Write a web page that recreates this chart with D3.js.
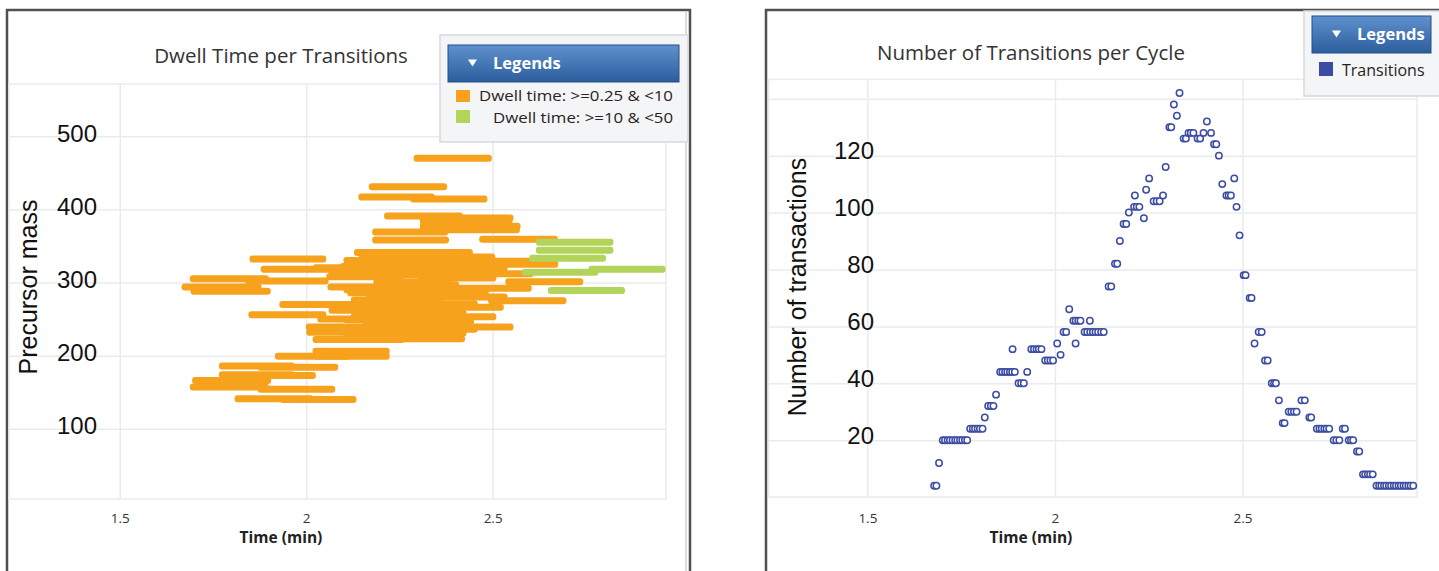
<!DOCTYPE html>
<html>
<head>
<meta charset="utf-8">
<script src="https://cdn.jsdelivr.net/npm/d3@7"></script>
<style>
  body { margin: 0; background: #fff; }
  svg { display: block; }
  .ui { font-family: "Open Sans", "Noto Sans", sans-serif; }
  .big { font-family: "Liberation Sans", Arial, sans-serif; }
</style>
</head>
<body>
<svg id="chart" width="1439" height="571"></svg>
<script>
// ---- data ----
const timeTicks = [1.5, 2, 2.5];
const massTicks = [100, 200, 300, 400, 500];
const countGrid = [20, 40, 60, 80, 100, 120, 140];
const countLabels = [20, 40, 60, 80, 100, 120];

// transition windows: [start (min), end (min), precursor mass]
const shortDwell = [
  [2.288, 2.498, 470], [2.168, 2.378, 431], [2.140, 2.345, 417], [2.279, 2.486, 414],
  [2.209, 2.420, 391], [2.350, 2.556, 388], [2.305, 2.515, 384], [2.345, 2.553, 382],
  [2.305, 2.515, 378], [2.370, 2.575, 377], [2.305, 2.510, 373], [2.365, 2.573, 372],
  [2.177, 2.381, 369], [2.177, 2.383, 358], [2.464, 2.675, 359],
  [2.128, 2.340, 341], [2.240, 2.447, 341], [2.186, 2.400, 335], [2.300, 2.507, 335],
  [2.140, 2.350, 338], [2.280, 2.490, 327], [2.090, 2.300, 322], [2.240, 2.450, 316],
  [1.848, 2.054, 332], [2.100, 2.310, 330], [2.250, 2.460, 330], [2.420, 2.630, 329],
  [2.200, 2.410, 325], [2.466, 2.676, 325],
  [1.878, 2.088, 318], [2.018, 2.228, 320], [2.190, 2.400, 320], [2.330, 2.540, 319],
  [2.060, 2.270, 313], [2.280, 2.490, 314], [2.400, 2.610, 312], [2.120, 2.330, 310],
  [1.688, 1.900, 305], [1.836, 2.060, 302], [2.054, 2.264, 308], [2.300, 2.510, 306],
  [2.534, 2.743, 301], [2.180, 2.390, 300],
  [1.666, 1.880, 294], [1.690, 1.905, 288], [2.057, 2.270, 294], [2.200, 2.410, 297],
  [2.395, 2.605, 292], [2.110, 2.320, 286], [2.200, 2.410, 283], [2.330, 2.540, 280],
  [2.100, 2.310, 290], [2.280, 2.490, 288], [2.160, 2.370, 279],
  [2.120, 2.330, 276], [2.488, 2.698, 275], [1.928, 2.138, 270], [2.250, 2.460, 271],
  [2.320, 2.530, 266], [2.060, 2.270, 262], [2.220, 2.430, 258], [1.845, 2.054, 256],
  [2.060, 2.270, 268], [2.180, 2.390, 264], [2.120, 2.330, 254],
  [2.300, 2.510, 253], [2.100, 2.310, 249], [2.240, 2.450, 246], [1.999, 2.210, 239],
  [2.030, 2.240, 250], [2.150, 2.360, 243], [2.080, 2.290, 236], [2.250, 2.460, 236],
  [2.346, 2.556, 239], [2.000, 2.210, 232], [2.220, 2.430, 231], [2.100, 2.300, 227],
  [2.150, 2.350, 228], [2.017, 2.264, 222], [2.220, 2.426, 223],
  [2.017, 2.224, 206], [1.916, 2.120, 199], [2.020, 2.224, 199],
  [1.766, 1.970, 186], [1.870, 2.086, 184], [1.766, 1.970, 174], [1.820, 2.026, 173],
  [1.694, 1.906, 166], [1.688, 1.900, 157], [1.870, 2.078, 154],
  [1.808, 2.020, 141], [1.930, 2.135, 140]
];
const longDwell = [
  [2.616, 2.824, 355], [2.616, 2.824, 344], [2.598, 2.804, 333],
  [2.757, 2.964, 318], [2.578, 2.784, 314], [2.648, 2.855, 289]
];

// cycles: [time (min), number of transitions]
const transitions = [
  [1.678, 4], [1.684, 4], [1.691, 12],
  [1.701, 20], [1.707, 20], [1.714, 20], [1.720, 20], [1.727, 20], [1.734, 20],
  [1.740, 20], [1.747, 20], [1.753, 20], [1.760, 20], [1.766, 20],
  [1.774, 24], [1.781, 24], [1.787, 24], [1.794, 24], [1.800, 24], [1.807, 24],
  [1.813, 28], [1.822, 32], [1.829, 32], [1.836, 32], [1.843, 36],
  [1.854, 44], [1.860, 44], [1.867, 44], [1.873, 44], [1.880, 44], [1.886, 44], [1.893, 44],
  [1.887, 52],
  [1.903, 40], [1.910, 40], [1.917, 40], [1.926, 44],
  [1.937, 52], [1.944, 52], [1.951, 52], [1.957, 52], [1.964, 52],
  [1.974, 48], [1.981, 48], [1.988, 48], [1.995, 48],
  [2.006, 54], [2.015, 50], [2.023, 58], [2.030, 58], [2.038, 66],
  [2.049, 62], [2.055, 62], [2.062, 62], [2.068, 62], [2.055, 54],
  [2.079, 58], [2.086, 58], [2.094, 58], [2.101, 58], [2.108, 58], [2.115, 58],
  [2.123, 58], [2.130, 58], [2.093, 62],
  [2.143, 74], [2.150, 74], [2.160, 82], [2.166, 82], [2.173, 90],
  [2.183, 96], [2.190, 96], [2.197, 100],
  [2.211, 102], [2.218, 102], [2.225, 102], [2.213, 106], [2.237, 98],
  [2.243, 108], [2.251, 112],
  [2.263, 104], [2.271, 104], [2.279, 104], [2.288, 106], [2.295, 116],
  [2.305, 130], [2.310, 130], [2.317, 138], [2.325, 134], [2.332, 142],
  [2.343, 126], [2.349, 126], [2.356, 128], [2.362, 128], [2.369, 128],
  [2.380, 126], [2.387, 126], [2.396, 128], [2.405, 132], [2.416, 128],
  [2.424, 124], [2.430, 124], [2.437, 120], [2.446, 110],
  [2.457, 106], [2.463, 106], [2.469, 106], [2.478, 112], [2.484, 102], [2.492, 92],
  [2.503, 78], [2.508, 78], [2.519, 70], [2.524, 70], [2.532, 54],
  [2.543, 58], [2.551, 58], [2.560, 48], [2.567, 48],
  [2.578, 40], [2.584, 40], [2.589, 40], [2.597, 34], [2.607, 26], [2.612, 26],
  [2.623, 30], [2.630, 30], [2.637, 30], [2.644, 30], [2.657, 34], [2.666, 34],
  [2.678, 28], [2.683, 28],
  [2.698, 24], [2.705, 24], [2.711, 24], [2.718, 24], [2.724, 24], [2.731, 24],
  [2.743, 20], [2.750, 20], [2.758, 20], [2.767, 24], [2.773, 24],
  [2.783, 20], [2.789, 20], [2.795, 20], [2.805, 16], [2.811, 16],
  [2.821, 8], [2.827, 8], [2.834, 8], [2.840, 8], [2.847, 8],
  [2.857, 4], [2.864, 4], [2.870, 4], [2.877, 4], [2.883, 4], [2.890, 4], [2.896, 4],
  [2.903, 4], [2.909, 4], [2.916, 4], [2.922, 4], [2.929, 4], [2.935, 4], [2.942, 4],
  [2.948, 4], [2.955, 4]
];

const COLORS = { short: "#f7a21c", long: "#b3d45b", point: "#3b4ca2", grid: "#e9ebed" };

const svg = d3.select("#chart");
const defs = svg.append("defs");
const grad = defs.append("linearGradient").attr("id", "hdr").attr("x1", 0).attr("y1", 0).attr("x2", 0).attr("y2", 1);
grad.append("stop").attr("offset", "0%").attr("stop-color", "#5f91cf");
grad.append("stop").attr("offset", "100%").attr("stop-color", "#2c5d9c");

// ---- panel frames ----
svg.append("path").attr("d", "M7,571V10H690V571").attr("fill", "none").attr("stroke", "#505050").attr("stroke-width", 2.5);
svg.append("line").attr("x1", 686).attr("x2", 686).attr("y1", 12).attr("y2", 571).attr("stroke", "#cfcfcf").attr("stroke-width", 1.5);
svg.append("path").attr("d", "M766,571V10H1439").attr("fill", "none").attr("stroke", "#505050").attr("stroke-width", 2.5);

function grid(g, x, y, xVals, yVals, x0, x1, y0, y1) {
  const gg = g.append("g");
  gg.append("g").attr("transform", `translate(0,${y0})`)
    .call(d3.axisBottom(x).tickValues(xVals).tickSize(y1 - y0).tickFormat(""))
    .call(a => a.select(".domain").remove())
    .selectAll("line").attr("stroke", COLORS.grid).attr("stroke-width", 1.5);
  gg.append("g").attr("transform", `translate(${x0},0)`)
    .call(d3.axisRight(y).tickValues(yVals).tickSize(x1 - x0).tickFormat(""))
    .call(a => a.select(".domain").remove())
    .selectAll("line").attr("stroke", COLORS.grid).attr("stroke-width", 1.5);
  gg.append("rect").attr("x", x0).attr("y", y0).attr("width", x1 - x0).attr("height", y1 - y0)
    .attr("fill", "none").attr("stroke", COLORS.grid).attr("stroke-width", 1.5);
}

function xAxisLabels(g, x, yPos, cx) {
  g.append("g").attr("transform", `translate(0,${yPos})`)
    .call(d3.axisBottom(x).tickValues(timeTicks).tickSize(0).tickPadding(0).tickFormat(d3.format("")))
    .call(a => a.select(".domain").remove())
    .selectAll("text").attr("class", "ui").attr("font-size", 13.5).attr("fill", "#333")
    .attr("y", 0).attr("dy", "0.35em");
  g.append("text").attr("class", "ui").attr("x", cx).attr("y", yPos + 20).attr("dy", "0.35em")
    .attr("text-anchor", "middle").attr("font-size", 15.5).attr("font-weight", 700).attr("fill", "#222")
    .text("Time (min)");
}

function legendBox(g, bx, by, bw, bh, hx, hy, hw, hh) {
  g.append("rect").attr("x", bx).attr("y", by).attr("width", bw).attr("height", bh)
    .attr("fill", "#f4f5f6").attr("stroke", "#d6d9dc").attr("stroke-width", 1.5);
  g.append("rect").attr("x", hx).attr("y", hy).attr("width", hw).attr("height", hh)
    .attr("fill", "url(#hdr)").attr("stroke", "#234f89").attr("stroke-width", 1);
  const tx = hx + 20, ty = hy + hh / 2;
  g.append("path").attr("d", `M${tx},${ty - 4}h9l-4.5,7z`).attr("fill", "#fff");
  g.append("text").attr("class", "ui").attr("x", hx + 45).attr("y", ty).attr("dy", "0.35em")
    .attr("font-size", 16.5).attr("font-weight", 700).attr("fill", "#fff").text("Legends");
}

// ================= left: Dwell Time per Transitions =================
{
  const g = svg.append("g");
  const x = d3.scaleLinear().domain([1.203, 2.965]).range([9, 666]);
  const y = d3.scaleLinear().domain([4, 570]).range([499, 85]);

  grid(g, x, y, timeTicks, massTicks, 9, 666, 84, 499);

  g.append("g").attr("transform", "translate(99,0)")
    .call(d3.axisLeft(y).tickValues(massTicks).tickSize(0).tickPadding(2))
    .call(a => a.select(".domain").remove())
    .selectAll("text").attr("class", "big").attr("font-size", 24).attr("fill", "#111")
    .attr("dy", "0.3em").attr("transform", "translate(0,-2)");

  g.append("text").attr("class", "big").attr("transform", "translate(37,287) rotate(-90)")
    .attr("text-anchor", "middle").attr("font-size", 25).attr("fill", "#111").text("Precursor mass");

  g.append("text").attr("class", "ui").attr("x", 281).attr("y", 56).attr("dy", "0.35em")
    .attr("text-anchor", "middle").attr("font-size", 20.5).attr("fill", "#333").text("Dwell Time per Transitions");

  xAxisLabels(g, x, 518, 281);

  const bars = (data, color) => g.append("g").selectAll("rect").data(data).join("rect")
    .attr("x", d => x(d[0])).attr("width", d => x(d[1]) - x(d[0]))
    .attr("y", d => y(d[2]) - 3.5).attr("height", 7).attr("rx", 3)
    .attr("fill", color);
  bars(shortDwell, COLORS.short);
  bars(longDwell, COLORS.long);

  legendBox(g, 440, 35, 248, 107, 448, 45, 231, 37);
  g.append("rect").attr("x", 456).attr("y", 90).attr("width", 14).attr("height", 12).attr("fill", COLORS.short);
  g.append("rect").attr("x", 456).attr("y", 110).attr("width", 14).attr("height", 13).attr("fill", COLORS.long);
  g.append("text").attr("class", "ui").attr("x", 673).attr("y", 95.5).attr("dy", "0.35em")
    .attr("text-anchor", "end").attr("font-size", 15).attr("textLength", 194).attr("lengthAdjust", "spacingAndGlyphs")
    .attr("fill", "#2a2222").text("Dwell time: >=0.25 & <10");
  g.append("text").attr("class", "ui").attr("x", 673).attr("y", 117.5).attr("dy", "0.35em")
    .attr("text-anchor", "end").attr("font-size", 15).attr("textLength", 180).attr("lengthAdjust", "spacingAndGlyphs")
    .attr("fill", "#2a2222").text("Dwell time: >=10 & <50");
}

// ================= right: Number of Transitions per Cycle =================
{
  const g = svg.append("g");
  const x = d3.scaleLinear().domain([1.237, 2.965]).range([768.7, 1417]);
  const y = d3.scaleLinear().domain([0, 146.8]).range([497.1, 79.4]);

  grid(g, x, y, timeTicks, countGrid, 768.7, 1417, 79.4, 497.1);

  g.append("g").attr("transform", "translate(876,0)")
    .call(d3.axisLeft(y).tickValues(countLabels).tickSize(0).tickPadding(2))
    .call(a => a.select(".domain").remove())
    .selectAll("text").attr("class", "big").attr("font-size", 24).attr("fill", "#111")
    .attr("dy", "0.3em").attr("transform", "translate(0,-4)");

  g.append("text").attr("class", "big").attr("transform", "translate(806,287) rotate(-90)")
    .attr("text-anchor", "middle").attr("font-size", 25).attr("fill", "#111").text("Number of transactions");

  g.append("text").attr("class", "ui").attr("x", 1031).attr("y", 53).attr("dy", "0.35em")
    .attr("text-anchor", "middle").attr("font-size", 20.5).attr("fill", "#333").text("Number of Transitions per Cycle");

  xAxisLabels(g, x, 518, 1031);

  g.append("g").selectAll("circle").data(transitions).join("circle")
    .attr("cx", d => x(d[0])).attr("cy", d => y(d[1])).attr("r", 3.2)
    .attr("fill", "#fff").attr("stroke", COLORS.point).attr("stroke-width", 1.5);

  legendBox(g, 1304, 11, 140, 85, 1312, 16, 119, 37);
  g.append("rect").attr("x", 1319).attr("y", 62).attr("width", 14).attr("height", 14).attr("fill", COLORS.point);
  g.append("text").attr("class", "ui").attr("x", 1342).attr("y", 70).attr("dy", "0.35em")
    .attr("font-size", 16).attr("fill", "#2a2222").text("Transitions");
}
</script>
</body>
</html>
